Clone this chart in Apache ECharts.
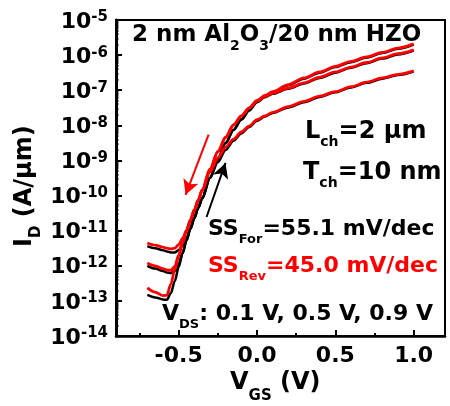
<!DOCTYPE html>
<html><head><meta charset="utf-8">
<script src="https://cdn.jsdelivr.net/npm/echarts@6/dist/echarts.min.js"></script>
<style>html,body{margin:0;padding:0;background:#fff}#c{width:450px;height:406px}</style>
</head><body><div id="c"></div>
<script>
// ---- data ----
const vgs = [-0.7,-0.65,-0.6,-0.575,-0.55,-0.525,-0.5,-0.475,-0.45,-0.425,-0.4,-0.375,-0.35,-0.3,-0.25,-0.2,-0.15,-0.1,-0.05,0,0.05,0.1,0.2,0.3,0.4,0.5,0.6,0.7,0.8,0.9,1.0];
// log10(I_D in A/um)
const logId_rev_09 = [-11.35,-11.41,-11.47,-11.5,-11.52,-11.5,-11.4,-11.22,-10.99,-10.70,-10.41,-10.13,-9.84,-9.25,-8.75,-8.34,-7.99,-7.73,-7.50,-7.29,-7.15,-7.04,-6.84,-6.65,-6.48,-6.32,-6.18,-6.05,-5.92,-5.80,-5.68];
const logId_rev_05 = [-11.92,-12.0,-12.08,-12.12,-12.13,-12.02,-11.70,-11.35,-11.01,-10.70,-10.41,-10.13,-9.84,-9.25,-8.75,-8.34,-7.99,-7.74,-7.51,-7.31,-7.18,-7.08,-6.94,-6.79,-6.63,-6.48,-6.34,-6.21,-6.08,-5.96,-5.85];
const logId_rev_01 = [-12.63,-12.75,-12.85,-12.84,-12.52,-12.12,-11.72,-11.35,-11.01,-10.70,-10.41,-10.13,-9.86,-9.33,-8.93,-8.62,-8.39,-8.19,-8.02,-7.84,-7.73,-7.63,-7.47,-7.32,-7.17,-7.04,-6.90,-6.77,-6.65,-6.55,-6.45];
const logId_for_09 = [-11.44,-11.50,-11.56,-11.59,-11.62,-11.62,-11.55,-11.42,-11.22,-10.93,-10.64,-10.35,-10.07,-9.49,-8.95,-8.50,-8.13,-7.83,-7.57,-7.32,-7.17,-7.06,-6.86,-6.67,-6.50,-6.34,-6.20,-6.07,-5.94,-5.82,-5.70];
const logId_for_05 = [-12.00,-12.08,-12.15,-12.19,-12.21,-12.15,-11.95,-11.63,-11.28,-10.95,-10.64,-10.35,-10.07,-9.49,-8.95,-8.50,-8.13,-7.84,-7.58,-7.34,-7.20,-7.10,-6.96,-6.81,-6.65,-6.50,-6.36,-6.23,-6.10,-5.98,-5.87];
const logId_for_01 = [-12.83,-12.90,-12.96,-12.97,-12.78,-12.44,-12.04,-11.65,-11.28,-10.95,-10.64,-10.35,-10.09,-9.50,-9.05,-8.70,-8.44,-8.23,-8.05,-7.87,-7.75,-7.65,-7.49,-7.34,-7.19,-7.06,-6.92,-6.79,-6.67,-6.57,-6.47];
// arrows [VGS, I_D] start -> end
const arrowRev = [[-0.309, 5.4e-9], [-0.456, 1.05e-10]];
const arrowFor = [[-0.322, 2.45e-11], [-0.201, 8.5e-10]];
// tick labels
const xTickVals = [-0.5, 0, 0.5, 1.0];
const xMinorVals = [-0.75, -0.25, 0.25, 0.75];
const yTickVals = [1e-14,1e-13,1e-12,1e-11,1e-10,1e-9,1e-8,1e-7,1e-6,1e-5];

const yMinorVals = [];
for (let e = -14; e < -5; e++) for (let m = 2; m <= 9; m++) yMinorVals.push(m * Math.pow(10, e));

const FONT = 'DejaVu Sans';
const toData = arr => vgs.map((v, i) => [v, Math.pow(10, arr[i])]);

function lineSeries(name, arr, color, width, extra) {
  return Object.assign({
    name, type: 'line', data: toData(arr), showSymbol: false, symbol: 'none',
    smooth: 0.3, smoothMonotone: 'x',
    lineStyle: { color, width }, itemStyle: { color }, silent: true, z: color === '#000' ? 2 : 3
  }, extra || {});
}
function arrowMark(pts, color) {
  return {
    markLine: {
      silent: true, animation: false, symbol: ['none', 'arrow'], symbolSize: [12, 15],
      label: { show: false },
      lineStyle: { color, width: 2, type: 'solid' },
      emphasis: { disabled: true },
      data: [[{ coord: pts[0] }, { coord: pts[1] }]]
    }
  };
}
const B = { fontFamily: FONT, fontWeight: 'bold', color: '#000' };
function txt(x, capMid, str, color, fs, sfs, L, h) {
  const rich = {
    b: Object.assign({}, B, { fontSize: fs, lineHeight: L, color }),
    s: Object.assign({}, B, { fontSize: sfs, lineHeight: h, verticalAlign: 'bottom', color })
  };
  return { type: 'text', x, y: capMid - L / 2, z: 10,
    style: { text: str, rich, align: 'left', verticalAlign: 'top', fill: color } };
}

const chart = echarts.init(document.getElementById('c'), null, { renderer: 'canvas' });
const axisCommon = { min: -0.9, max: 1.2 };
chart.setOption({
  animation: false,
  backgroundColor: '#fff',
  grid: { left: 116, top: 20, right: 5, bottom: 70, show: true, borderColor: '#000', borderWidth: 2, containLabel: false },
  xAxis: [
    Object.assign({ type: 'value', position: 'bottom',
      axisLine: { show: true, onZero: false, lineStyle: { color: '#000', width: 2.5 } },
      axisTick: { show: true, inside: true, length: 6, customValues: xTickVals, lineStyle: { color: '#000', width: 2 } },
      axisLabel: { customValues: xTickVals, margin: 9, formatter: v => v.toFixed(1),
        fontFamily: FONT, fontWeight: 'bold', fontSize: 22, color: '#000' },
      splitLine: { show: false } }, axisCommon),
    Object.assign({ type: 'value', position: 'bottom',
      axisLine: { show: false, onZero: false },
      axisTick: { show: true, inside: true, length: 3, customValues: xMinorVals, lineStyle: { color: '#000', width: 2 } },
      axisLabel: { show: false }, splitLine: { show: false } }, axisCommon)
  ],
  yAxis: [
    { type: 'log', logBase: 10, min: 1e-14, max: 1e-5,
      axisLine: { show: true, onZero: false, lineStyle: { color: '#000', width: 3 } },
      axisTick: { show: true, inside: true, length: 6, customValues: yTickVals, lineStyle: { color: '#000', width: 2 } },
      axisLabel: { customValues: yTickVals, margin: 8, padding: [4, 0, 0, 0],
        formatter: v => '{b|10}{s|' + Math.round(Math.log10(v)) + '}',
        rich: {
          b: Object.assign({}, B, { fontSize: 22, lineHeight: 24 }),
          s: Object.assign({}, B, { fontSize: 15, lineHeight: 12, verticalAlign: 'top' })
        } },
      splitLine: { show: false } },
    { type: 'log', logBase: 10, min: 1e-14, max: 1e-5, position: 'left',
      axisLine: { show: false, onZero: false },
      axisTick: { show: true, inside: true, length: 2.5, customValues: yMinorVals, lineStyle: { color: '#000', width: 1.5 } },
      axisLabel: { show: false }, splitLine: { show: false } }
  ],
  series: [
    lineSeries('For 0.1 V', logId_for_01, '#000', 2.5),
    lineSeries('For 0.5 V', logId_for_05, '#000', 2.5),
    lineSeries('For 0.9 V', logId_for_09, '#000', 2.5, arrowMark(arrowFor, '#000')),
    lineSeries('Rev 0.1 V', logId_rev_01, '#ff0000', 2.8),
    lineSeries('Rev 0.5 V', logId_rev_05, '#ff0000', 2.8),
    lineSeries('Rev 0.9 V', logId_rev_09, '#ff0000', 2.8, arrowMark(arrowRev, '#ff0000'))
  ],
  graphic: [
    txt(132, 35, '{b|2 nm Al}{s|2}{b|O}{s|3}{b|/20 nm HZO}', '#000', 23, 14, 36, 13),
    txt(305, 132, '{b|L}{s|ch}{b|=2 μm}', '#000', 24, 14, 34, 12),
    txt(303, 173, '{b|T}{s|ch}{b|=10 nm}', '#000', 24, 14, 34, 12),
    txt(208, 229.5, '{b|SS}{s|For}{b|=55.1 mV/dec}', '#000', 22, 13, 34, 12),
    txt(208, 266, '{b|SS}{s|Rev}{b|=45.0 mV/dec}', '#ff0000', 22, 13, 34, 12),
    txt(162, 314, '{b|V}{s|DS}{b|: 0.1 V, 0.5 V, 0.9 V}', '#000', 22, 13, 34, 12),
    txt(230, 382.5, '{b|V}{s|GS}{b| (V)}', '#000', 24, 15, 42, 12),
    Object.assign(txt(0, 0, '{b|I}{s|D}{b| (A/μm)}', '#000', 24, 15, 39, 12),
      { x: 24.5 - 19.5, y: 247, rotation: Math.PI / 2 })
  ]
});
</script></body></html>
